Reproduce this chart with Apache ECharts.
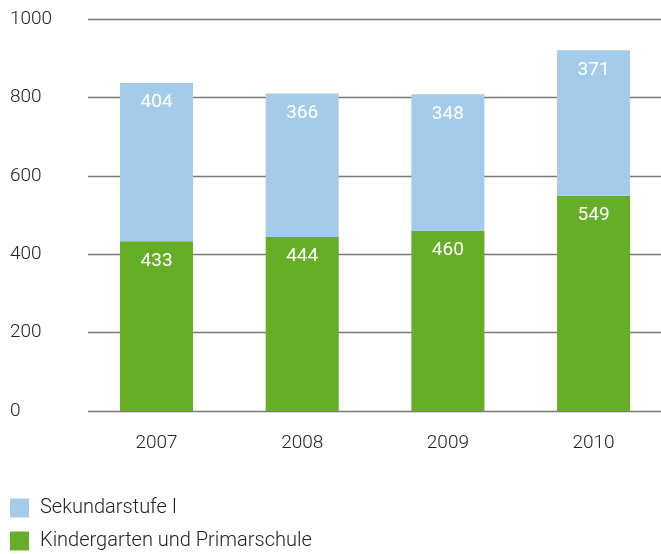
<!DOCTYPE html>
<html>
<head>
<meta charset="utf-8">
<script src="https://cdn.jsdelivr.net/npm/echarts@6/dist/echarts.min.js"></script>
<style>
  html, body { margin: 0; padding: 0; background: #fff; }
  #chart { width: 661px; height: 554px; }
</style>
</head>
<body>
<div id="chart"></div>
<script>
const years = ["2007", "2008", "2009", "2010"];
const primar = [433, 444, 460, 549];
const sekundar = [404, 366, 348, 371];
const yTicks = [0, 200, 400, 600, 800, 1000];

const font = "Roboto, 'Liberation Sans', sans-serif";
const fs = 19;
const blue = "#a5cbea";
const green = "#66ad28";

const chart = echarts.init(document.getElementById("chart"));
chart.setOption({
  animation: false,
  textStyle: { fontFamily: font },
  legend: {
    orient: "vertical",
    left: 10,
    top: 498,
    padding: 0,
    itemWidth: 19,
    itemHeight: 19,
    itemGap: 13,
    icon: "rect",
    data: ["Sekundarstufe I", "Kindergarten und Primarschule"],
    textStyle: { fontSize: 20, fontWeight: 300, color: "#222", fontFamily: font, padding: [0, 0, 0, 6] }
  },
  // grid 0 carries the gridlines, grid 1 the bars (bars run a bit past the right edge)
  grid: [
    { left: 88, right: 0, top: 19, bottom: 143, outerBoundsMode: "none" },
    { left: 83.7, width: 582.7, top: 19, bottom: 143, outerBoundsMode: "none" }
  ],
  xAxis: [
    { gridIndex: 0, type: "category", data: years, show: false },
    {
      gridIndex: 1,
      type: "category",
      data: years,
      axisLine: { show: false },
      axisTick: { show: false },
      axisLabel: { fontSize: fs, fontWeight: 300, color: "#222", margin: 23, fontFamily: font }
    }
  ],
  yAxis: [
    {
      gridIndex: 0,
      type: "value",
      min: yTicks[0],
      max: yTicks[yTicks.length - 1],
      interval: 200,
      axisLine: { show: false },
      axisTick: { show: false },
      splitLine: { lineStyle: { color: "#7a7a7a", width: 1.3 } },
      axisLabel: {
        fontSize: fs, fontWeight: 300, color: "#222", align: "left", margin: 78, fontFamily: font,
        formatter: (v) => String(v)
      }
    },
    {
      gridIndex: 1,
      type: "value",
      min: 0,
      max: 1000,
      show: false,
      splitLine: { show: false }
    }
  ],
  series: [
    {
      name: "Kindergarten und Primarschule",
      type: "bar",
      stack: "total",
      xAxisIndex: 1,
      yAxisIndex: 1,
      barWidth: 73,
      data: primar,
      itemStyle: { color: green },
      label: { show: true, position: "insideTop", distance: 10, color: "#fff", fontSize: fs, fontFamily: font }
    },
    {
      name: "Sekundarstufe I",
      type: "bar",
      stack: "total",
      xAxisIndex: 1,
      yAxisIndex: 1,
      barWidth: 73,
      data: sekundar,
      itemStyle: { color: blue },
      label: { show: true, position: "insideTop", distance: 10, color: "#fff", fontSize: fs, fontFamily: font }
    }
  ]
});
</script>
</body>
</html>
